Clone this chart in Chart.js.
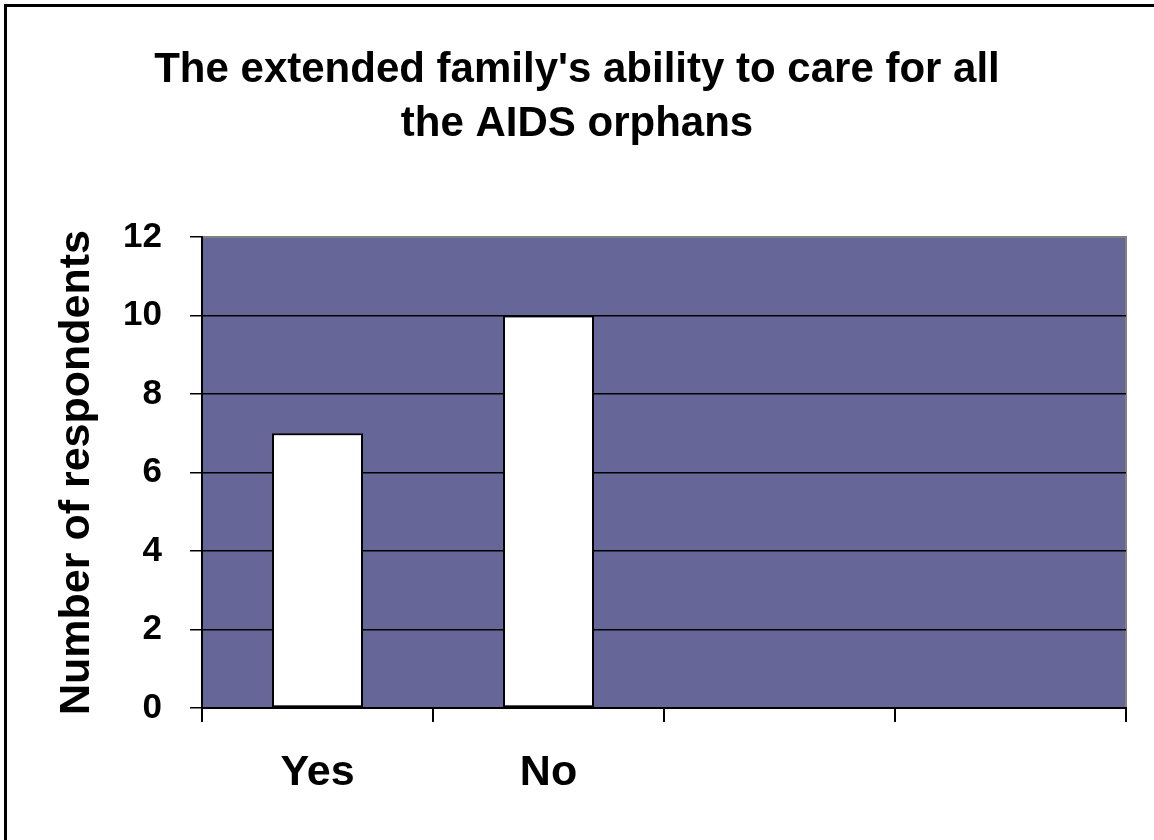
<!DOCTYPE html>
<html>
<head>
<meta charset="utf-8">
<script src="https://cdn.jsdelivr.net/npm/chart.js@4.4.1/dist/chart.umd.min.js"></script>
<style>
  html, body { margin: 0; padding: 0; background: #fff; }
  #wrap { position: relative; width: 1154px; height: 840px; overflow: hidden; }
  #frame { position: absolute; left: 4px; top: 4px; width: 1200px; height: 900px;
           border-left: 3px solid #000; border-top: 3px solid #000; pointer-events: none; }
  canvas { position: absolute; left: 0; top: 0; }
</style>
</head>
<body>
<div id="wrap">
  <canvas id="chart" width="1154" height="840"></canvas>
  <div id="frame"></div>
</div>
<script>
// donnees
const categories = ['Yes', 'No', '', ''];
const respondents = [7, 10, null, null];
const yTicks = [0, 2, 4, 6, 8, 10, 12];
const titleLines = ["The extended family's ability to care for all", 'the AIDS orphans'];
const yTitle = 'Number of respondents';

const FONT = "'Liberation Sans', Arial, Helvetica, sans-serif";

// fond du graphique + bordure grise haut/droite
const plotBg = {
  id: 'plotBg',
  beforeDraw(chart) {
    const { ctx, chartArea: a } = chart;
    ctx.save();
    ctx.fillStyle = '#666699';
    ctx.fillRect(a.left, a.top, a.right - a.left, a.bottom - a.top);
    ctx.strokeStyle = '#808080';
    ctx.lineWidth = 2;
    ctx.beginPath();
    ctx.moveTo(a.left, a.top);
    ctx.lineTo(a.right, a.top);
    ctx.lineTo(a.right, a.bottom);
    ctx.stroke();
    ctx.restore();
  }
};

const ctx = document.getElementById('chart').getContext('2d');
new Chart(ctx, {
  type: 'bar',
  data: {
    labels: categories,
    datasets: [{
      data: respondents,
      backgroundColor: '#ffffff',
      borderColor: '#000000',
      borderWidth: 2,
      borderSkipped: false,
      categoryPercentage: 1,
      barPercentage: 0.394
    }]
  },
  options: {
    responsive: false,
    animation: false,
    layout: { padding: { left: 28, right: 28, top: 0, bottom: 0 } },
    plugins: {
      legend: { display: false },
      tooltip: { enabled: false },
      title: {
        display: true,
        text: titleLines,
        color: '#000',
        font: { family: FONT, size: 42, weight: 'bold', lineHeight: 1.286 },
        padding: { top: 43, bottom: 86 }
      }
    },
    scales: {
      x: {
        offset: true,
        grid: { offset: true, drawOnChartArea: false, tickLength: 14, color: '#000', tickColor: '#000', lineWidth: 2 },
        border: { color: '#000', width: 2 },
        ticks: { color: '#000', padding: 25, maxRotation: 0, font: { family: FONT, size: 43, weight: 'bold' } },
        afterFit(scale) { scale.height = 132; }
      },
      y: {
        min: 0,
        max: 12,
        afterBuildTicks(scale) { scale.ticks = yTicks.map(v => ({ value: v })); },
        grid: {
          tickLength: 12,
          lineWidth: 1.5,
          tickColor: '#000',
          color: c => (c.tick && c.tick.value === 12) ? '#808080' : '#000'
        },
        border: { color: '#000', width: 2 },
        ticks: { color: '#000', padding: 28, font: { family: FONT, size: 35, weight: 'bold' } },
        title: {
          display: true,
          text: yTitle,
          color: '#000',
          font: { family: FONT, size: 43, weight: 'bold', lineHeight: 1.2 },
          padding: { top: 23, bottom: 4 }
        },
        afterFit(scale) { scale.width = 174; }
      }
    }
  },
  plugins: [plotBg]
});
</script>
</body>
</html>
